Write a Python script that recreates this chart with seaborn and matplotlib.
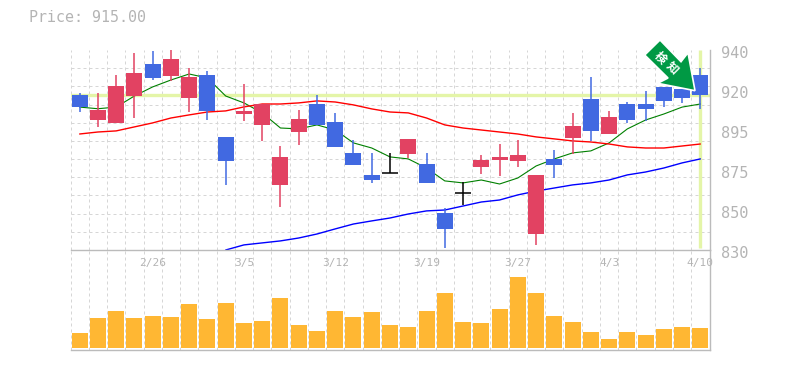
#!/usr/bin/env python3
"""Candlestick chart with moving averages and volume pane."""

import numpy as np
import pandas as pd
import matplotlib
matplotlib.use('Agg')
import matplotlib.pyplot as plt
import seaborn as sns
from matplotlib.patches import Polygon
from matplotlib.transforms import ScaledTranslation

opens = [915.2, 901.5, 899.9, 914.7, 932.3, 925.7, 913.6, 926.3, 892.2, 904.8, 898.8, 865.8,
         894.9, 910.3, 900.4, 883.3, 871.3, 872.2, 882.8, 877.3, 850.4, 861.2, 875.7, 879.5,
         879.0, 838.8, 880.1, 891.6, 913.1, 893.8, 910.3, 910.3, 919.7, 918.6, 926.3]
closes = [908.6, 907.0, 920.2, 927.4, 924.6, 935.0, 925.2, 906.5, 879.0, 906.5, 910.3, 881.2,
          902.1, 898.8, 886.7, 876.8, 868.5, 872.2, 891.1, 866.9, 841.6, 861.2, 879.5, 881.2,
          882.3, 871.3, 876.8, 898.2, 895.5, 903.2, 901.5, 907.6, 912.0, 913.6, 915.0]
highs = [916.2, 916.2, 926.3, 938.4, 939.5, 940.0, 930.1, 928.5, 892.2, 921.3, 910.3, 887.2,
         907.0, 915.3, 905.4, 890.5, 883.3, 883.3, 891.1, 883.3, 853.1, 867.4, 882.3, 888.3,
         890.5, 871.3, 885.0, 905.4, 925.2, 906.5, 911.4, 917.5, 919.7, 918.6, 930.1]
lows = [905.9, 897.9, 899.9, 902.6, 923.5, 923.0, 905.9, 901.5, 865.8, 901.0, 889.9, 853.7,
        887.8, 898.8, 886.7, 876.8, 866.9, 872.2, 880.6, 866.9, 831.1, 854.8, 871.8, 870.7,
        875.7, 832.8, 869.6, 882.8, 890.0, 893.8, 899.9, 901.0, 908.7, 910.9, 907.6]

ma_short = [908.6, 907.7, 908.6, 914.7, 919.7, 923.5, 926.8, 924.6, 914.7, 910.9, 905.4, 897.1,
            896.6, 898.8, 896.0, 888.9, 886.1, 881.2, 880.1, 875.1, 868.0, 866.9, 868.5, 866.3,
            869.6, 876.2, 880.1, 883.4, 884.5, 888.9, 896.6, 901.5, 904.8, 908.6, 910.3]
ma_mid = [893.8, 894.9, 895.5, 897.7, 899.9, 902.6, 904.3, 905.9, 906.5, 908.7, 910.3, 910.3,
          910.9, 912.0, 911.4, 909.8, 907.6, 905.9, 905.4, 902.6, 898.8, 897.1, 896.0, 894.9,
          893.8, 892.2, 891.1, 890.0, 889.4, 888.3, 886.7, 886.1, 886.1, 887.2, 888.3]
ma_long = [830.0, 832.8, 833.9, 835.0, 836.6, 838.8, 841.6, 844.3, 846.0, 847.6, 849.8, 851.5,
           852.0, 854.2, 856.4, 857.5, 860.3, 862.4, 864.1, 865.8, 866.9, 868.5, 871.3, 872.9,
           875.1, 877.9, 880.1]

volume = [15, 30, 37, 30, 32, 31, 44, 29, 45, 25, 27, 50, 23, 17, 37, 31, 36, 23, 21, 37, 55, 26,
          25, 39, 71, 55, 32, 26, 16, 9, 16, 13, 19, 21, 20]

price_ticks = [940, 918, 896, 874, 852, 830]
price_labels = ['940', '920', '895', '875', '850', '830']
date_ticks = [4, 9, 14, 19, 24, 29, 34]
date_labels = ['2/26', '3/5', '3/12', '3/19', '3/27', '4/3', '4/10']
last_price = 915

W, H = 785, 370
GRID = '#D6D6D6'
AXIS = '#BBBBBB'
TEXT = '#B4B4B4'
UP = '#E24262'
DOWN = '#4169E1'
FLAT = '#000000'
MARK = '#E4F5A8'
ARROW = '#009944'

sns.set_style('white')
plt.rcParams['font.family'] = ['DejaVu Sans Mono']

df = pd.DataFrame({'open': opens, 'close': closes, 'high': highs, 'low': lows,
                   'short': ma_short, 'mid': ma_mid, 'volume': volume})
df['i'] = np.arange(len(df))
df['top'] = df[['open', 'close']].max(axis=1)
df['bottom'] = df[['open', 'close']].min(axis=1)
df['color'] = np.where(df['close'] > df['open'], UP, np.where(df['close'] < df['open'], DOWN, FLAT))
df_long = pd.DataFrame({'i': df['i'].values[-len(ma_long):], 'long': ma_long})


def box(left, top, right, bottom):
    return [left / W, 1 - bottom / H, (right - left) / W, (bottom - top) / H]


fig = plt.figure(figsize=(W / 100, H / 100), dpi=100)
ax_vol = fig.add_axes(box(70.5, 250, 709.5, 350))
ax = fig.add_axes(box(70.5, 50, 709.5, 250))
ax.patch.set_visible(False)
ax_vol.patch.set_visible(False)
ax.set_zorder(5)

n = len(df)
dash = (0, (3.0, 3.0))

# price pane
ax.set_xlim(-0.5, n - 0.5)
ax.set_ylim(830, 940)
ax.set_xticks(date_ticks)
ax.set_xticklabels(date_labels, fontsize=8, color=TEXT)
ax.set_xticks(np.arange(n + 1) - 0.5, minor=True)
ax.set_yticks(price_ticks)
ax.set_yticklabels(price_labels, fontsize=11, color=TEXT)
ax.set_yticks(np.arange(830, 941, 10), minor=True)
ax.yaxis.tick_right()
ax.tick_params(axis='both', which='both', length=0)
ax.tick_params(axis='x', which='major', pad=6)
ax.tick_params(axis='y', which='major', pad=8)
ax.grid(True, which='minor', color=GRID, lw=0.72, ls=dash)
ax.grid(False, which='major')
ax.set_axisbelow(True)
offset = ScaledTranslation(0, -2.5 / 100, fig.dpi_scale_trans)
for lab in ax.get_yticklabels():
    lab.set_transform(lab.get_transform() + offset)

ax.axhline(last_price, color=MARK, lw=2.4, zorder=1)
ax.plot([n - 1, n - 1], [831, 940], color=MARK, lw=2.4, zorder=1, solid_capstyle='butt')

sns.lineplot(data=df, x='i', y='short', color='#008000', lw=0.8, ax=ax, zorder=2)
sns.lineplot(data=df, x='i', y='mid', color='#FF0000', lw=1.0, ax=ax, zorder=2)
sns.lineplot(data=df_long, x='i', y='long', color='#0000FF', lw=1.0, ax=ax, zorder=2)

ax.vlines(df['i'], df['low'], df['high'], colors=df['color'], lw=1.1, zorder=3)
ax.bar(df['i'], df['top'] - df['bottom'], bottom=df['bottom'], width=16 / 18.26,
       color=df['color'], linewidth=0, zorder=3)
flat = df[df['open'] == df['close']]
ax.hlines(flat['close'], flat['i'] - 0.44, flat['i'] + 0.44, colors=FLAT, lw=1.1, zorder=3)

ax.set_xlabel('')
ax.set_ylabel('')
for side in ['top', 'left']:
    ax.spines[side].set_visible(False)
for side in ['right', 'bottom']:
    ax.spines[side].set_visible(True)
    ax.spines[side].set_color(AXIS)
    ax.spines[side].set_linewidth(1.0)

# volume pane
sns.barplot(data=df, x='i', y='volume', color='#FFB733', saturation=1, width=16 / 18.26,
            linewidth=0, ax=ax_vol, zorder=3)
ax_vol.set_xlim(-0.5, n - 0.5)
ax_vol.set_ylim(-2, 98)
ax_vol.set_xticks([])
ax_vol.set_yticks([])
ax_vol.set_xticks(np.arange(n + 1) - 0.5, minor=True)
ax_vol.tick_params(axis='both', which='both', length=0)
ax_vol.grid(True, axis='x', which='minor', color=GRID, lw=0.72, ls=dash)
ax_vol.set_axisbelow(True)
ax_vol.set_xlabel('')
ax_vol.set_ylabel('')
for side in ['top', 'left']:
    ax_vol.spines[side].set_visible(False)
for side in ['right', 'bottom']:
    ax_vol.spines[side].set_color(AXIS)
    ax_vol.spines[side].set_linewidth(1.0)

fig.text(29 / W, 1 - 18 / H, f'Price: {last_price:.2f}', fontsize=10.8, color=TEXT,
         ha='left', va='center')

# badge arrow
arrow_px = [(660, 40), (644.7, 55), (668, 78), (657.7, 83.3), (695, 90.7), (688, 52.7), (681, 61.7)]
arrow_fig = [(x / W, 1 - y / H) for x, y in arrow_px]
fig.add_artist(Polygon(arrow_fig, closed=True, transform=fig.transFigure, facecolor=ARROW,
                       edgecolor='white', lw=1.2, zorder=10))
for ch, (tx, ty) in zip('検知', [(660, 58), (672, 68)]):
    fig.text(tx / W, 1 - ty / H, ch, fontsize=8.5, color='white', rotation=-45,
             rotation_mode='anchor', ha='center', va='center', fontweight='bold',
             family=['Noto Sans CJK JP', 'DejaVu Sans'], zorder=11)

fig.savefig('out.png', dpi=100, facecolor='white')
